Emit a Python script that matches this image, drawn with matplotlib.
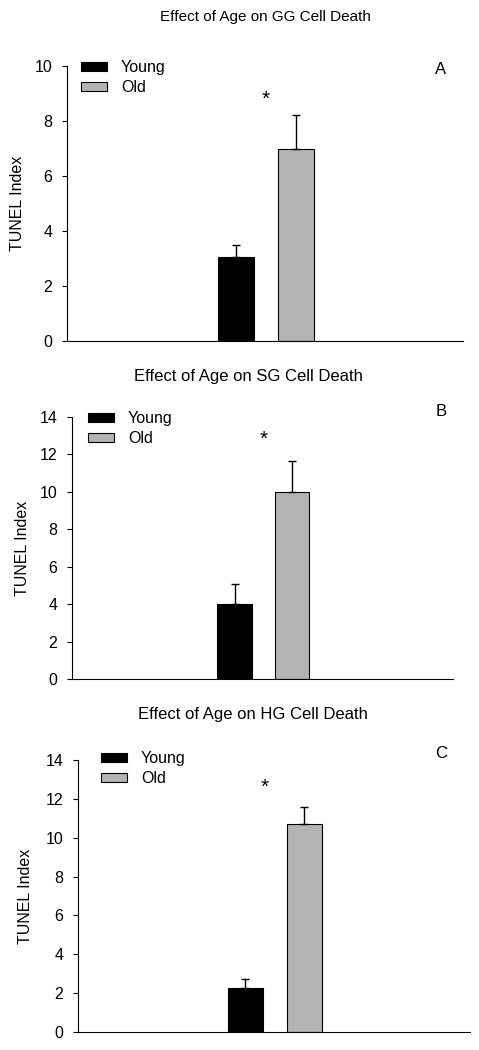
import matplotlib.pyplot as plt

plt.rcParams['font.family'] = ['Liberation Sans', 'DejaVu Sans']

# data
titles = ['Effect of Age on GG Cell Death',
          'Effect of Age on SG Cell Death',
          'Effect of Age on HG Cell Death']
letters = ['A', 'B', 'C']
groups = ['Young', 'Old']
young_mean = [3.05, 4.0, 2.25]
young_err = [0.45, 1.07, 0.47]
old_mean = [7.0, 10.0, 10.7]
old_err = [1.22, 1.65, 0.88]
y_max = [10, 14, 14]
star_x = [0.5, 0.5, 0.32]
star_y = [8.8, 12.8, 12.6]

W, H = 479, 1050
fig = plt.figure(figsize=(W / 100, H / 100), dpi=100)

# axes boxes in pixels: left, right, top, bottom
boxes = [(67, 463, 66, 341), (72, 453, 417, 679), (78, 470, 760, 1032)]
title_pos = [(265, 17, 11), (248, 377, 12), (253, 715, 12)]
letter_y = [69, 411, 753]
legend_off = [(14, 6), (16, 6), (23, 9)]
ylab_off = [42, 42, 45]

for i in range(3):
    l, r, t, b = boxes[i]
    ax = fig.add_axes([l / W, 1 - b / H, (r - l) / W, (b - t) / H])
    ax.bar(0, young_mean[i], width=0.6, color='black', edgecolor='black',
           linewidth=0.8, label=groups[0])
    ax.bar(1, old_mean[i], width=0.6, color='#b3b3b3', edgecolor='black',
           linewidth=0.8, label=groups[1])
    ax.errorbar(0, young_mean[i], yerr=[[0], [young_err[i]]], fmt='none',
                ecolor='black', elinewidth=1, capsize=3, capthick=1, zorder=1)
    ax.errorbar(1, old_mean[i], yerr=[[0], [old_err[i]]], fmt='none',
                ecolor='black', elinewidth=1, capsize=3, capthick=1, zorder=1)
    ax.text(star_x[i], star_y[i], '*', ha='center', va='center', fontsize=15)

    ax.set_xlim(-2.83, 3.8)
    ax.set_ylim(0, y_max[i])
    ax.set_yticks(range(0, y_max[i] + 1, 2))
    ax.set_xticks([])
    ax.spines['top'].set_visible(False)
    ax.spines['right'].set_visible(False)
    ax.spines['left'].set_linewidth(0.8)
    ax.spines['bottom'].set_linewidth(0.8)
    ax.tick_params(axis='y', direction='out', length=3.5, width=0.8,
                   pad=7, labelsize=11.5)
    ax.set_ylabel('TUNEL Index', fontsize=11.5)
    ax.yaxis.set_label_coords(-ylab_off[i] / (r - l), 0.5)

    dx, dy = legend_off[i]
    ax.legend(loc='upper left', bbox_to_anchor=(dx / (r - l), 1 + dy / (b - t)),
              frameon=False, fontsize=11.5, handlelength=1.6, handleheight=0.5,
              handletextpad=0.9, labelspacing=0.3, borderpad=0, borderaxespad=0)

    fig.text(441 / W, 1 - letter_y[i] / H, letters[i],
             ha='center', va='center', fontsize=12)
    tx, ty, ts = title_pos[i]
    fig.text(tx / W, 1 - ty / H, titles[i], ha='center', va='center', fontsize=ts)

fig.savefig('out.png', dpi=100)
